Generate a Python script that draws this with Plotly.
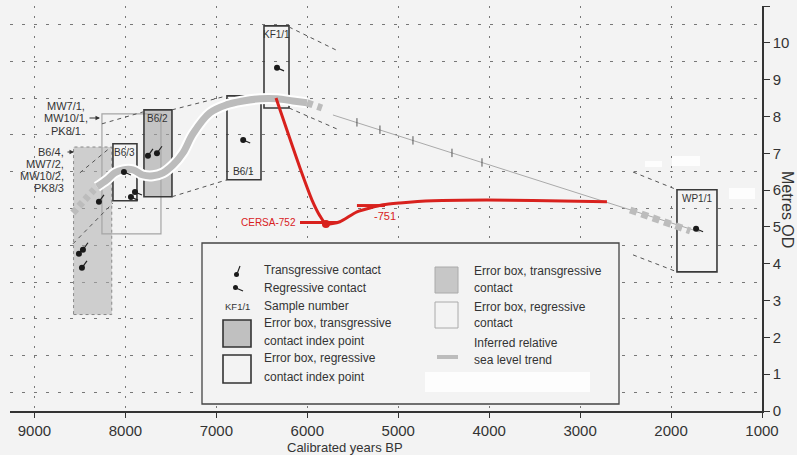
import plotly.graph_objects as go

# ---------------- data ----------------
x_ticks = [9000, 8000, 7000, 6000, 5000, 4000, 3000, 2000, 1000]
y_ticks = list(range(0, 12))
y_grid = [0.5, 1.5, 2.5, 3.5, 4.5, 5.5, 6.5, 7.5, 8.5, 9.5, 10.5]

box_names = ["B6/4", "MW7/1", "B6/3", "B6/2", "B6/1", "KF1/1", "WP1/1"]
box_kind = ["trans_contact", "reg_contact", "reg_index", "trans_index", "reg_index", "reg_index", "reg_index"]
box_old = [8570, 8258, 8137, 7796, 6883, 6476, 1935]
box_young = [8150, 7609, 7873, 7488, 6509, 6201, 1495]
box_low = [2.62, 4.81, 5.71, 5.82, 6.28, 8.23, 3.78]
box_high = [7.17, 8.07, 7.26, 8.18, 8.56, 10.46, 6.01]
box_label = ["", "", "B6/3", "B6/2", "B6/1", "KF1/1", "WP1/1"]
box_label_side = ["", "", "top", "top", "bottom", "top", "top"]

trans_age = [7752, 7653, 8291, 8511, 8467, 8478]
trans_elev = [6.93, 7.00, 5.68, 4.27, 4.38, 3.89]
reg_age = [6333, 6705, 8016, 7895, 7939, 1725]
reg_elev = [9.32, 7.36, 6.49, 5.95, 5.81, 4.95]

trend_old_age = [8577, 8467, 8368, 8313]
trend_old_elev = [5.38, 5.68, 5.95, 6.09]
trend_age = [8313, 8203, 8115, 8027, 7917, 7807, 7697, 7587, 7477, 7367, 7257,
             7070, 6883, 6707, 6520, 6333, 6157, 6003]
trend_elev = [6.09, 6.28, 6.47, 6.55, 6.55, 6.41, 6.39, 6.47, 6.68, 7.01, 7.53,
              8.10, 8.32, 8.42, 8.48, 8.48, 8.42, 8.37]
trend_mid_age = [6003, 5839]
trend_mid_elev = [8.37, 8.23]
trend_late_age = [2450, 1790]
trend_late_elev = [5.46, 4.89]

link_age = [5718, 1683]
link_elev = [8.04, 4.86]
link_tick_age = [5454, 5201, 4838, 4409, 4079]
link_tick_elev = [7.84, 7.64, 7.35, 7.01, 6.75]

env_age = [[8500, 8159], [8258, 7796], [7488, 6883], [6201, 5663], [8577, 8137],
           [7488, 6883], [6201, 5674], [2418, 1935], [2418, 1935]]
env_elev = [[6.47, 7.17], [7.80, 8.13], [8.18, 8.56], [10.43, 9.78], [4.54, 5.65],
            [5.82, 6.28], [8.23, 7.66], [6.49, 6.01], [4.24, 3.78]]

red_age = [6344, 6080, 5948, 5861, 5795, 5641, 5454, 5168, 4981, 4618, 4025, 3519, 2705]
red_elev = [8.50, 6.60, 5.73, 5.30, 5.08, 5.14, 5.41, 5.60, 5.65, 5.71, 5.73, 5.72, 5.68]
cersa752_age = [6080, 5663]
cersa752_elev = [5.12, 5.12]
cersa751_age = [5454, 5146]
cersa751_elev = [5.58, 5.58]
red_min_age = [5795]
red_min_elev = [5.08]

# ---------------- style ----------------
FONT = "Liberation Sans, Arial, sans-serif"
BG = "#f3f3f3"
BAND = "#bcbcbc"
RED = "#d8211d"
L, R, T, B = 10, 35, 6, 44
W, H = 797, 455
PW, PH = W - L - R, H - T - B


def fx(px):
    return (px - L) / PW


def fy(py):
    return (T + PH - py) / PH


YR_PER_PX = (9269 - 1000) / PW
M_PER_PX = 11.0 / PH

fig = go.Figure()

# envelope dashed lines
ex, ey = [], []
for a, e in zip(env_age, env_elev):
    ex += a + [None]
    ey += e + [None]
fig.add_trace(go.Scatter(x=ex, y=ey, mode="lines", line=dict(color="#555", width=1, dash="4px,4px"),
                         hoverinfo="skip"))

# thin link line
fig.add_trace(go.Scatter(x=link_age, y=link_elev, mode="lines", line=dict(color="#aaaaaa", width=1),
                         hoverinfo="skip"))
fig.add_trace(go.Scatter(x=link_tick_age, y=link_tick_elev, mode="markers",
                         marker=dict(symbol="line-ns", size=6, line=dict(color="#555", width=1)),
                         hoverinfo="skip"))

# trend band
for xs, ys, dash in [(trend_old_age, trend_old_elev, "5px,4px"), (trend_age, trend_elev, "solid"),
                     (trend_mid_age, trend_mid_elev, "6px,5px"), (trend_late_age, trend_late_elev, "7px,5px")]:
    if dash == "solid":
        fig.add_trace(go.Scatter(x=xs, y=ys, mode="lines", line=dict(color="#ffffff", width=11, shape="spline"),
                                 hoverinfo="skip"))
    fig.add_trace(go.Scatter(x=xs, y=ys, mode="lines",
                             line=dict(color=BAND, width=7, shape="spline", dash=dash),
                             hoverinfo="skip"))

# contact symbols: tails
tx, ty = [], []
for a, e in zip(trans_age, trans_elev):
    tx += [a, a - 5 * YR_PER_PX, None]
    ty += [e, e + 7 * M_PER_PX, None]
for a, e in zip(reg_age, reg_elev):
    tx += [a, a - 7 * YR_PER_PX, None]
    ty += [e, e - 3 * M_PER_PX, None]
fig.add_trace(go.Scatter(x=tx, y=ty, mode="lines", line=dict(color="#222", width=1.2), hoverinfo="skip"))
fig.add_trace(go.Scatter(x=trans_age + reg_age, y=trans_elev + reg_elev, mode="markers",
                         marker=dict(color="#1a1a1a", size=6), hoverinfo="skip"))

# red annotation line
fig.add_trace(go.Scatter(x=red_age, y=red_elev, mode="lines",
                         line=dict(color=RED, width=3, shape="spline", smoothing=0.6), hoverinfo="skip"))
fig.add_trace(go.Scatter(x=cersa752_age, y=cersa752_elev, mode="lines", line=dict(color=RED, width=3),
                         hoverinfo="skip"))
fig.add_trace(go.Scatter(x=cersa751_age, y=cersa751_elev, mode="lines", line=dict(color=RED, width=3),
                         hoverinfo="skip"))
fig.add_trace(go.Scatter(x=red_min_age, y=red_min_elev, mode="markers", marker=dict(color=RED, size=8),
                         hoverinfo="skip"))

shapes = []
styles = {
    "trans_contact": dict(fillcolor="rgba(175,175,175,0.55)", line=dict(color="#888", width=1, dash="dot")),
    "reg_contact": dict(fillcolor="rgba(0,0,0,0)", line=dict(color="#a5a5a5", width=1.2)),
    "trans_index": dict(fillcolor="rgba(165,165,165,0.6)", line=dict(color="#3a3a3a", width=1.6)),
    "reg_index": dict(fillcolor="rgba(0,0,0,0)", line=dict(color="#3a3a3a", width=1.6)),
}
for i in range(len(box_names)):
    shapes.append(dict(type="rect", xref="x", yref="y", x0=box_old[i], x1=box_young[i],
                       y0=box_low[i], y1=box_high[i], layer="between", **styles[box_kind[i]]))

annotations = []


def ptext(px, py, txt, size=12, xanchor="left", color="#333", angle=0):
    annotations.append(dict(x=fx(px), y=fy(py), xref="paper", yref="paper", text=txt, showarrow=False,
                            xanchor=xanchor, yanchor="middle", textangle=angle,
                            font=dict(size=size, color=color, family=FONT)))


for i in range(len(box_names)):
    if not box_label[i]:
        continue
    cx = (box_old[i] + box_young[i]) / 2
    if box_label_side[i] == "top":
        annotations.append(dict(x=cx, y=box_high[i], xref="x", yref="y", text=box_label[i], showarrow=False,
                                yanchor="top", yshift=-1, font=dict(size=10, color="#333", family=FONT)))
    else:
        annotations.append(dict(x=cx, y=box_low[i], xref="x", yref="y", text=box_label[i], showarrow=False,
                                yanchor="bottom", yshift=1, font=dict(size=10, color="#333", family=FONT)))

# red labels
annotations.append(dict(x=cersa752_age[0], y=cersa752_elev[0], xref="x", yref="y", text="CERSA-752",
                        showarrow=False, xanchor="right", yanchor="middle", xshift=-2,
                        font=dict(size=10, color=RED, family=FONT)))
annotations.append(dict(x=cersa751_age[1], y=cersa751_elev[0], xref="x", yref="y", text="-751",
                        showarrow=False, xanchor="center", yanchor="middle", yshift=-10,
                        font=dict(size=11, color=RED, family=FONT)))

# left sample labels
for txt, py in [("MW7/1,", 106), ("MW10/1,", 118), ("PK8/1", 131)]:
    ptext(66, py, txt, size=11, xanchor="center")
for txt, py in [("B6/4,", 152), ("MW7/2,", 164), ("MW10/2,", 176), ("PK8/3", 188)]:
    ptext(66, py, txt, size=11, xanchor="right")
for hx, hy, ln in [(100, 118, 12), (74, 152, 8)]:
    annotations.append(dict(x=fx(hx), y=fy(hy), xref="paper", yref="paper", text="", showarrow=True,
                            ax=-ln, ay=0, arrowhead=2, arrowsize=0.9, arrowwidth=1, arrowcolor="#333"))

# axis titles
ptext(345, 447.5, "Calibrated years BP", size=13, xanchor="center")
ptext(788, 209, "Metres OD", size=16, xanchor="center", angle=90)

# white scan blotches
for x0, y0, x1, y1 in [(645, 161, 662, 167), (672, 156, 700, 166), (729, 188, 755, 199)]:
    shapes.append(dict(type="rect", xref="paper", yref="paper", x0=fx(x0), x1=fx(x1), y0=fy(y1), y1=fy(y0),
                       fillcolor="#fdfdfd", line=dict(width=0), layer="above"))

# legend panel
shapes.append(dict(type="rect", xref="paper", yref="paper", x0=fx(202), x1=fx(619), y0=fy(404), y1=fy(243),
                   fillcolor=BG, line=dict(color="#444", width=1.3), layer="above"))
shapes.append(dict(type="rect", xref="paper", yref="paper", x0=fx(425), x1=fx(590), y0=fy(392), y1=fy(372),
                   fillcolor="#fdfdfd", line=dict(width=0), layer="above"))
# legend symbols
shapes.append(dict(type="circle", xref="paper", yref="paper", x0=fx(234), x1=fx(239), y0=fy(277), y1=fy(272),
                   fillcolor="#1a1a1a", line=dict(width=0), layer="above"))
shapes.append(dict(type="line", xref="paper", yref="paper", x0=fx(237), x1=fx(240), y0=fy(274), y1=fy(266),
                   line=dict(color="#222", width=1.2), layer="above"))
shapes.append(dict(type="circle", xref="paper", yref="paper", x0=fx(233), x1=fx(238), y0=fy(290), y1=fy(285),
                   fillcolor="#1a1a1a", line=dict(width=0), layer="above"))
shapes.append(dict(type="line", xref="paper", yref="paper", x0=fx(236), x1=fx(243), y0=fy(288), y1=fy(291),
                   line=dict(color="#222", width=1.2), layer="above"))
legend_boxes = [
    (223, 320, 251, 347, "rgba(175,175,175,0.75)", "#333", 1.6),
    (223, 355, 251, 383, BG, "#333", 1.6),
    (435, 267, 458, 293, "rgba(180,180,180,0.7)", "#aaa", 1),
    (435, 302, 458, 328, BG, "#aaa", 1),
]
for x0, y0, x1, y1, fc, lc, lw in legend_boxes:
    shapes.append(dict(type="rect", xref="paper", yref="paper", x0=fx(x0), x1=fx(x1), y0=fy(y1), y1=fy(y0),
                       fillcolor=fc, line=dict(color=lc, width=lw), layer="above"))
shapes.append(dict(type="rect", xref="paper", yref="paper", x0=fx(437), x1=fx(458), y0=fy(359), y1=fy(355),
                   fillcolor=BAND, line=dict(width=0), layer="above"))

legend_texts = [
    (262, 270, "Transgressive contact"), (262, 288, "Regressive contact"), (262, 306, "Sample number"),
    (262, 323, "Error box, transgressive"), (262, 341, "contact index point"),
    (262, 358, "Error box, regressive"), (262, 377, "contact index point"),
    (472, 271, "Error box, transgressive"), (472, 288, "contact"),
    (472, 307, "Error box, regressive"), (472, 323, "contact"),
    (472, 343, "Inferred relative"), (472, 360, "sea level trend"),
]
for px, py, txt in legend_texts:
    ptext(px, py, txt, size=12, xanchor="left")
ptext(237, 306, "KF1/1", size=9.5, xanchor="center")

fig.update_layout(
    width=W, height=H, margin=dict(l=L, r=R, t=T, b=B),
    paper_bgcolor=BG, plot_bgcolor=BG, showlegend=False,
    shapes=shapes, annotations=annotations,
    xaxis=dict(range=[9269, 1000], tickmode="array", tickvals=x_ticks, ticks="outside", ticklen=5,
               tickwidth=1.2, tickcolor="#333", showline=True, linecolor="#333", linewidth=1.5,
               showgrid=True, gridcolor="#777", gridwidth=1, griddash="2px,8px", zeroline=False,
               tickfont=dict(size=15, color="#333", family=FONT), fixedrange=True),
    yaxis=dict(range=[0, 11], side="right", tickmode="array", tickvals=y_ticks, ticks="outside", ticklen=6,
               tickwidth=1.2, tickcolor="#333", showline=True, linecolor="#333", linewidth=1.5,
               showgrid=False, zeroline=False,
               minor=dict(tickmode="array", tickvals=y_grid, showgrid=True, gridcolor="#777",
                          gridwidth=1, griddash="3px,9px", ticks=""),
               tickfont=dict(size=15, color="#333", family=FONT), fixedrange=True),
)

fig.write_html("out.html")
